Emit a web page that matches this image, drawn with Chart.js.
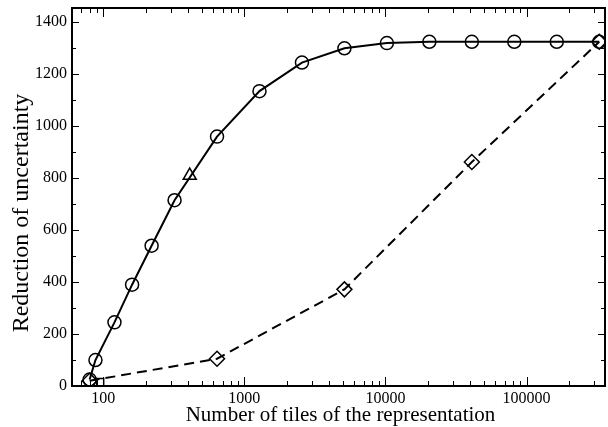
<!doctype html>
<html lang="en">
<head>
<meta charset="utf-8">
<title>Reduction of uncertainty</title>
<style>
  * { margin: 0; padding: 0; }
  body { background: #fff; }
  .chartBox { width: 608px; height: 427px; }
</style>
</head>
<body>
<div class="chartBox"><canvas id="myChart"></canvas></div>
<script src="https://cdn.jsdelivr.net/npm/chart.js"></script>
<script>
// values
const circleTiles = [80, 88, 120, 160, 220, 320, 640, 1280, 2560, 5120, 10240, 20480, 40960, 81920, 163840, 327680];
const circleValues = [25, 100, 245, 390, 540, 715, 960, 1135, 1245, 1300, 1320, 1325, 1325, 1325, 1325, 1325];
const diamondTiles = [80, 640, 5120, 40960, 327680];
const diamondValues = [20, 105, 372, 862, 1325];
const triangleTiles = [410];
const triangleValues = [810];
const squareTiles = [95];
const squareValues = [15];

// tick labels
const xMajorTicks = [100, 1000, 10000, 100000];
const yMajorTicks = [0, 200, 400, 600, 800, 1000, 1200, 1400];
const yMinorTicks = [100, 300, 500, 700, 900, 1100, 1300];
const xMinorTicks = [60, 70, 80, 90,
    200, 300, 400, 500, 600, 700, 800, 900,
    2000, 3000, 4000, 5000, 6000, 7000, 8000, 9000,
    20000, 30000, 40000, 50000, 60000, 70000, 80000, 90000,
    200000, 300000];

const xTitle = 'Number of tiles of the representation';
const yTitle = 'Reduction of uncertainty';

const pts = (xs, ys) => xs.map((v, i) => ({x: v, y: ys[i]}));

// inward ticks on all four sides, frame and axis titles
const frame = {
    id: 'frame',
    afterDraw(chart) {
        const {ctx, chartArea: {top, bottom, left, right}, scales: {x, y}} = chart;
        ctx.save();
        ctx.strokeStyle = '#000';
        ctx.lineWidth = 1;
        ctx.beginPath();
        const xt = (v, len) => {
            const px = Math.round(x.getPixelForValue(v)) + 0.5;
            ctx.moveTo(px, bottom); ctx.lineTo(px, bottom - len);
            ctx.moveTo(px, top); ctx.lineTo(px, top + len);
        };
        const yt = (v, len) => {
            const py = Math.round(y.getPixelForValue(v)) + 0.5;
            ctx.moveTo(left, py); ctx.lineTo(left + len, py);
            ctx.moveTo(right, py); ctx.lineTo(right - len, py);
        };
        xMajorTicks.forEach(v => xt(v, 9));
        xMinorTicks.forEach(v => xt(v, 5));
        yMajorTicks.forEach(v => yt(v, 7));
        yMinorTicks.forEach(v => yt(v, 4));
        ctx.stroke();
        ctx.lineWidth = 2;
        ctx.strokeRect(left, top, right - left, bottom - top);

        ctx.fillStyle = '#000';
        ctx.textAlign = 'center';
        ctx.textBaseline = 'middle';
        ctx.font = '21px "Liberation Serif", serif';
        ctx.fillText(xTitle, (left + right) / 2 + 2, 415);
        ctx.translate(22, 213);
        ctx.rotate(-Math.PI / 2);
        ctx.font = '24px "Liberation Serif", serif';
        ctx.fillText(yTitle, 0, 0);
        ctx.restore();
    }
};

const marker = {
    backgroundColor: 'rgba(0,0,0,0)',
    borderColor: '#000',
    pointBorderColor: '#000',
    pointBorderWidth: 1.5,
    pointRadius: 6.5,
    pointHoverRadius: 6.5
};

const data = {
    datasets: [{
        ...marker,
        label: 'circles',
        data: pts(circleTiles, circleValues),
        borderWidth: 2,
        pointStyle: 'circle'
    }, {
        ...marker,
        label: 'diamonds',
        data: pts(diamondTiles, diamondValues),
        borderWidth: 2,
        borderDash: [10, 6],
        pointStyle: 'rectRot',
        pointRadius: 7.5
    }, {
        ...marker,
        label: 'triangle',
        data: pts(triangleTiles, triangleValues),
        showLine: false,
        pointStyle: 'triangle',
        pointRadius: 7.5
    }, {
        ...marker,
        label: 'square',
        data: pts(squareTiles, squareValues),
        showLine: false,
        pointStyle: 'rect',
        pointRadius: 5
    }]
};

const font = {family: '"Liberation Serif", serif', size: 16};

const config = {
    type: 'line',
    data,
    options: {
        animation: false,
        responsive: true,
        maintainAspectRatio: false,
        layout: {autoPadding: false, padding: {top: 8, right: 3, left: 0, bottom: 0}},
        plugins: {legend: {display: false}, tooltip: {enabled: false}},
        scales: {
            x: {
                type: 'logarithmic',
                min: 60,
                max: 360000,
                grid: {display: false, drawTicks: false},
                border: {display: false},
                afterBuildTicks: s => { s.ticks = xMajorTicks.map(v => ({value: v})); },
                afterFit: s => { s.height = 41; s.paddingLeft = 0; s.paddingRight = 0; },
                ticks: {
                    autoSkip: false,
                    maxRotation: 0,
                    padding: 3,
                    color: '#000',
                    font,
                    callback: v => String(v)
                }
            },
            y: {
                min: 0,
                max: 1455,
                grid: {display: false, drawTicks: false},
                border: {display: false},
                afterBuildTicks: s => { s.ticks = yMajorTicks.map(v => ({value: v})); },
                afterFit: s => { s.width = 72; s.paddingTop = 0; s.paddingBottom = 0; },
                ticks: {
                    padding: 5,
                    color: '#000',
                    font,
                    callback: v => String(v)
                }
            }
        }
    },
    plugins: [frame]
};

const myChart = new Chart(document.getElementById('myChart'), config);
</script>
</body>
</html>
